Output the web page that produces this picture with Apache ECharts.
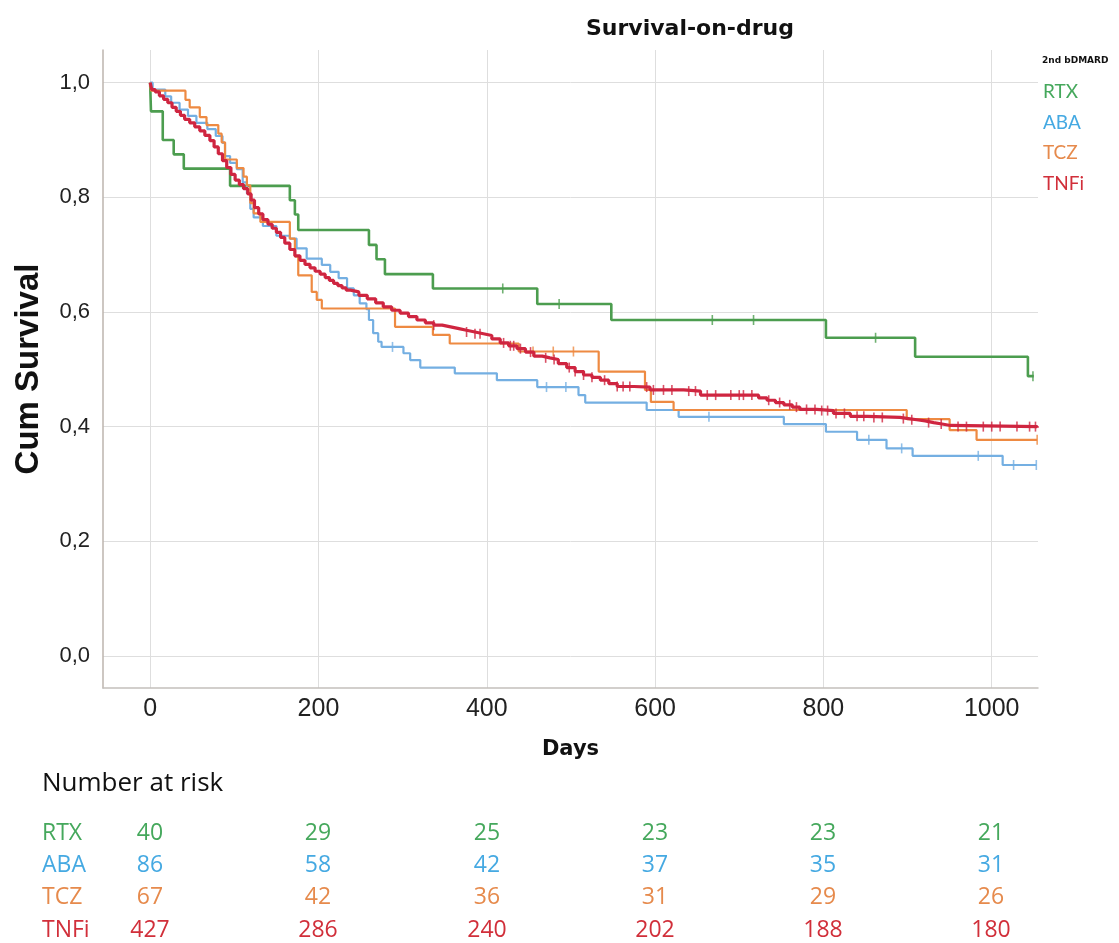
<!DOCTYPE html>
<html>
<head>
<meta charset="utf-8">
<title>Survival-on-drug</title>
<script src="https://cdn.jsdelivr.net/npm/echarts@6/dist/echarts.min.js"></script>
<style>
  html, body { margin: 0; padding: 0; background: #fff; }
  #chart { width: 1119px; height: 943px; }
</style>
</head>
<body>
<div id="chart"></div>
<script>
// Kaplan-Meier steps: [day, cum survival after the drop]
var rtxSteps = [[0,1.0],[1,0.95],[15,0.90],[28,0.875],[40,0.85],[95,0.82],[166,0.795],[172,0.77],[176,0.743],
  [260,0.717],[269,0.692],[279,0.666],[336,0.641],[460,0.614],[548,0.586],[803,0.555],[909,0.522],[1043,0.488],[1050,0.488]];
var abaSteps = [[0,1.0],[3,0.988],[18,0.976],[25,0.965],[35,0.953],[45,0.942],[55,0.930],[68,0.919],[78,0.907],[86,0.895],
  [89,0.872],[95,0.86],[103,0.849],[110,0.826],[115,0.807],[119,0.78],[123,0.765],[134,0.75],[150,0.733],[166,0.728],
  [174,0.711],[186,0.693],[204,0.682],[214,0.67],[224,0.659],[234,0.641],[242,0.629],[249,0.615],[257,0.605],[260,0.586],
  [265,0.563],[271,0.548],[275,0.539],[301,0.528],[309,0.516],[321,0.503],[362,0.493],[412,0.481],[460,0.469],[509,0.455],
  [517,0.442],[590,0.429],[628,0.417],[753,0.4045],[803,0.391],[840,0.377],[875,0.362],[906,0.349],[1013,0.333],[1053,0.333]];
var tczSteps = [[0,1.0],[1,0.986],[42,0.97],[47,0.957],[59,0.94],[67,0.926],[81,0.911],[85,0.896],[89,0.866],[103,0.851],
  [111,0.836],[115,0.821],[119,0.79],[123,0.772],[131,0.757],[166,0.728],[172,0.697],[176,0.664],[192,0.635],[198,0.621],
  [204,0.606],[291,0.574],[336,0.56],[356,0.545],[438,0.531],[533,0.496],[588,0.464],[595,0.443],[622,0.429],[899,0.413],
  [950,0.394],[982,0.377],[1054,0.377]];
var tnfSteps = [[0,1.0],[2,0.988],[6,0.984],[11,0.977],[16,0.971],[21,0.965],[26,0.957],[31,0.95],[36,0.943],[41,0.936],
  [47,0.93],[53,0.923],[59,0.916],[65,0.908],[71,0.899],[76,0.888],[81,0.876],[86,0.864],[91,0.852],[96,0.84],
  [101,0.83],[106,0.822],[111,0.815],[116,0.806],[120,0.795],[124,0.782],[129,0.771],[134,0.761],[140,0.753],[145,0.746],
  [150,0.739],[155,0.73],[160,0.72],[166,0.709],[172,0.698],[178,0.69],[184,0.683],[190,0.677],[196,0.671],[202,0.666],
  [208,0.66],[213,0.655],[218,0.65],[223,0.646],[228,0.642],[233,0.638],[238,0.635],[248,0.629],[258,0.623],[268,0.616],
  [277,0.609],[287,0.603],[297,0.598],[307,0.592],[317,0.586],[327,0.581],[337,0.577],[347,0.574],[357,0.571],[367,0.568],
  [376,0.565],[386,0.562],[396,0.559],[406,0.553],[416,0.546],[426,0.541],[436,0.536],[446,0.53],[456,0.523],[466,0.52],
  [475,0.517],[485,0.51],[495,0.503],[505,0.496],[515,0.49],[525,0.486],[535,0.481],[545,0.475],[555,0.47],[575,0.469],
  [594,0.464],[634,0.462],[654,0.455],[713,0.455],[723,0.45],[733,0.446],[743,0.442],[753,0.438],[763,0.434],[772,0.43],
  [792,0.428],[812,0.423],[832,0.418],[852,0.416],[891,0.414],[901,0.412],[911,0.41],[921,0.407],[931,0.4045],[941,0.402],
  [951,0.4],[1054,0.398]];

// censored observations (days)
var rtxCensor = [419, 486, 668, 717, 862, 1049];
var abaCensor = [288, 471, 494, 664, 854, 893, 984, 1026, 1053];
var tczCensor = [455, 479, 503, 1054];
var tnfCensor = [337, 376, 386, 392, 420, 428, 432, 440, 452, 470, 480, 498, 505, 515, 525, 540, 555, 562, 570, 590, 598,
  610, 620, 640, 648, 662, 672, 690, 700, 705, 715, 735, 748, 760, 768, 780, 790, 798, 805, 815, 825, 840, 848, 860, 870,
  895, 905, 925, 940, 960, 970, 990, 1000, 1010, 1030, 1045, 1052];

var groups = ['RTX', 'ABA', 'TCZ', 'TNFi'];
var riskDays = [0, 200, 400, 600, 800, 1000];
var rtxRisk = [40, 29, 25, 23, 23, 21];
var abaRisk = [86, 58, 42, 37, 35, 31];
var tczRisk = [67, 42, 36, 31, 29, 26];
var tnfRisk = [427, 286, 240, 202, 188, 180];

var lineColors = ['#4c9d4f', '#74afe2', '#ee8a42', '#cf2540'];
var textColors = ['#45a85c', '#45a9e2', '#e68a4c', '#d12f3a'];

function stepAt(steps, t) {
  var v = steps[0][1];
  for (var i = 0; i < steps.length; i++) {
    if (steps[i][0] <= t) v = steps[i][1];
  }
  return v;
}

var allSteps = [rtxSteps, abaSteps, tczSteps, tnfSteps];
var allCensor = [rtxCensor, abaCensor, tczCensor, tnfCensor];
var allRisk = [rtxRisk, abaRisk, tczRisk, tnfRisk];
var widths = [2.6, 2.2, 2.2, 3.2];

var series = [];
for (var g = 0; g < groups.length; g++) {
  series.push({
    name: groups[g],
    type: 'line',
    step: 'end',
    data: allSteps[g],
    showSymbol: false,
    silent: true,
    z: 2 + g,
    lineStyle: { color: lineColors[g], width: widths[g] }
  });
  // censor ticks sit on the curve at the censoring day
  series.push({
    name: groups[g] + ' censored',
    type: 'scatter',
    data: allCensor[g].map(function (d) { return [d, stepAt(allSteps[g], d)]; }),
    symbol: 'rect',
    symbolSize: [1.6, 10],
    silent: true,
    z: 2 + g,
    itemStyle: { color: lineColors[g] }
  });
}

var chart = echarts.init(document.getElementById('chart'));

var graphics = [];
graphics.push({
  type: 'text', x: 690, y: 29,
  style: { text: 'Survival-on-drug', font: 'bold 22px "DejaVu Sans"', fill: '#111', textAlign: 'center', textVerticalAlign: 'middle' }
});
graphics.push({
  type: 'text', x: 1042, y: 61,
  style: { text: '2nd bDMARD', font: 'bold 9px "DejaVu Sans"', fill: '#111', textAlign: 'left', textVerticalAlign: 'middle' }
});
var legendY = [92, 123, 153, 184];
for (var k = 0; k < groups.length; k++) {
  graphics.push({
    type: 'text', x: 1043, y: legendY[k],
    style: { text: groups[k], font: '19px Lato', fill: textColors[k], textAlign: 'left', textVerticalAlign: 'middle' }
  });
}
graphics.push({
  type: 'text', x: 42, y: 784,
  style: { text: 'Number at risk', font: '26px "Open Sans"', fill: '#111', textAlign: 'left', textVerticalAlign: 'middle' }
});
var rowY = [833, 865, 897, 930];
var colX = [150, 318, 487, 655, 823, 991];
for (var r = 0; r < groups.length; r++) {
  graphics.push({
    type: 'text', x: 42, y: rowY[r],
    style: { text: groups[r], font: '23px "Open Sans"', fill: textColors[r], textAlign: 'left', textVerticalAlign: 'middle' }
  });
  for (var c = 0; c < riskDays.length; c++) {
    graphics.push({
      type: 'text', x: colX[c], y: rowY[r],
      style: { text: String(allRisk[r][c]), font: '23px "Open Sans"', fill: textColors[r], textAlign: 'center', textVerticalAlign: 'middle' }
    });
  }
}

var option = {
  animation: false,
  backgroundColor: '#fff',
  grid: { left: 103, right: 81, top: 50, bottom: 255, outerBoundsMode: 'none' },
  xAxis: {
    type: 'value',
    min: -56,
    max: 1055,
    name: 'Days',
    nameLocation: 'middle',
    nameGap: 51,
    nameTextStyle: { fontFamily: 'DejaVu Sans', fontWeight: 'bold', fontSize: 21, color: '#111' },
    axisLine: { show: true, onZero: false, lineStyle: { color: '#c4c0bc', width: 1.5 } },
    axisTick: { show: false },
    axisLabel: {
      show: true,
      margin: 9,
      fontFamily: 'Liberation Sans',
      fontSize: 25,
      color: '#222',
      showMinLabel: false,
      showMaxLabel: false,
      formatter: function (v) { return Math.abs(v % 200) < 1e-6 ? String(v) : ''; }
    },
    splitLine: { show: true, showMinLine: false, showMaxLine: false, lineStyle: { color: '#dedede', width: 1 } }
  },
  yAxis: {
    type: 'value',
    min: -0.056,
    max: 1.057,
    name: 'Cum Survival',
    nameLocation: 'middle',
    nameGap: 58,
    nameTextStyle: { fontFamily: 'Liberation Sans', fontWeight: 'bold', fontSize: 33, color: '#111' },
    axisLine: { show: true, onZero: false, lineStyle: { color: '#bdb5ae', width: 1.5 } },
    axisTick: { show: false },
    axisLabel: {
      margin: 13,
      fontFamily: 'Liberation Sans',
      fontSize: 22,
      color: '#222',
      showMinLabel: false,
      showMaxLabel: false,
      formatter: function (v) {
        var k = Math.round(v / 0.2);
        if (Math.abs(v - k * 0.2) > 1e-6) return '';
        return (k * 0.2).toFixed(1).replace('.', ',');
      }
    },
    splitLine: { show: true, showMinLine: false, showMaxLine: false, lineStyle: { color: '#dedede', width: 1 } }
  },
  graphic: graphics,
  series: series
};

chart.setOption(option);
</script>
</body>
</html>
